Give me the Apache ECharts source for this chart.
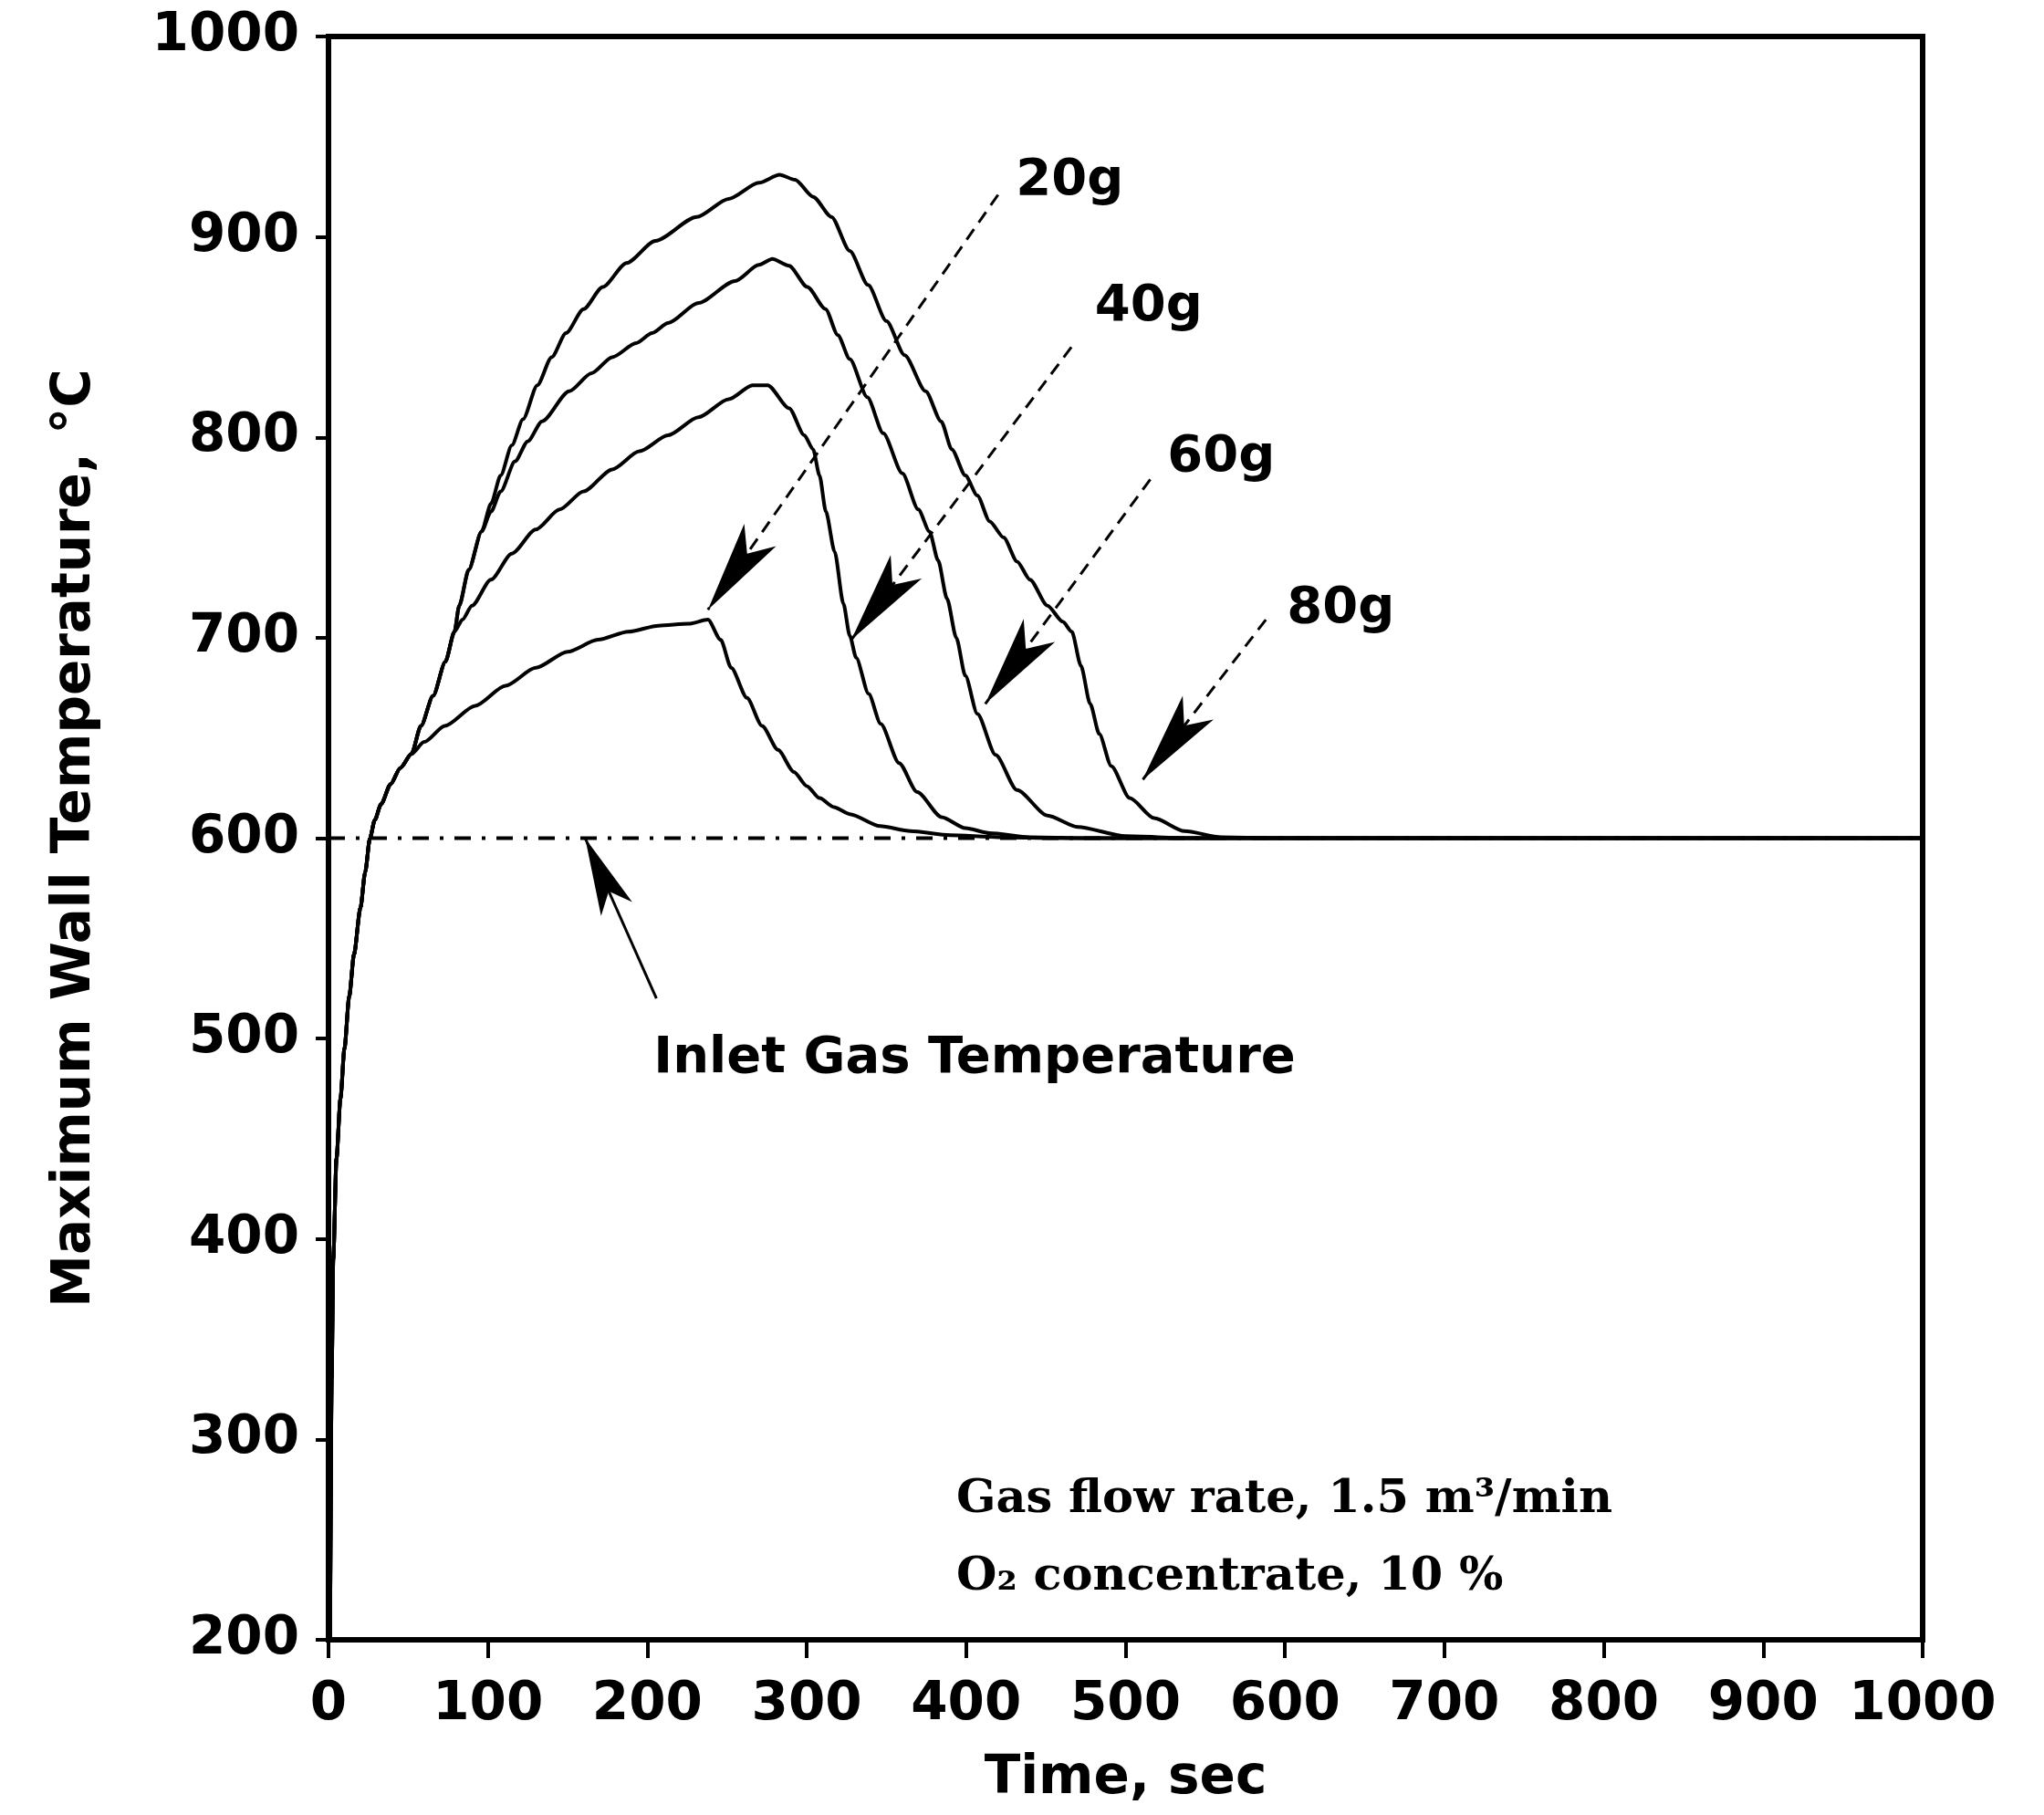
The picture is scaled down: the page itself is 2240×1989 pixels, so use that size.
<!DOCTYPE html>
<html>
<head>
<meta charset="utf-8">
<script src="https://cdn.jsdelivr.net/npm/echarts@6/dist/echarts.min.js"></script>
<style>html,body{margin:0;padding:0;background:#fff}#c{width:2240px;height:1989px}</style>
</head>
<body>
<div id="c"></div>
<script>
// ---- axis ranges / tick labels ----
const xTickValues = [0, 100, 200, 300, 400, 500, 600, 700, 800, 900, 1000];
const yTickValues = [200, 300, 400, 500, 600, 700, 800, 900, 1000];

// ---- shared initial rise (all charges) [time s, temperature C] ----
const rise = [[1,200],[2,330],[3,390],[5,440],[7.5,470],[10,495],[13,521],[16,542],[20,565],[23,583],[26,600],[29,609],[33,617],[39,627],[45,635],[52,642]];

// ---- 20 g ----
const g20 = [[60,648],[73,656],[92,666],[111,676],[130,685],[150,693],[169,699],[188,703],[207,706],[226,707],[238,709],[246,699],[252.6,685],[262.5,670],[272,656],[282,644],[292,633],[300,626],[308,620],[317,615.5],[327,612],[346,606],[365,603.5],[390,601.5],[420,600.5],[460,600],[1000,600]];

// ---- 40 g ----
const g40 = [[58,656],[65.6,671],[73.3,688],[79,703],[84,709],[90,716],[101.9,729],[115,742],[130,754],[145,764],[160,773],[178,784],[195,793],[213,801],[232,810],[251,819],[266,826],[275.5,826],[289,814.5],[298.5,801],[304,794],[308,781],[312,763],[317.5,743],[323,717],[327,701],[331,690],[338.8,672],[346.4,657],[357.9,637.5],[369.3,623],[384.6,610.5],[399.5,605],[414.8,602.5],[440,600.5],[480,600],[1000,600]];

// ---- 60 g ----
const g60 = [[58,656],[65.6,671],[73.3,688],[79,703],[82,716],[88,734],[96,753],[102,763],[108,773],[117,788],[125,798],[134,808],[151,823],[165,832],[178,840],[193,847],[203,852],[213,857],[232,867],[255,878],[270,886],[278.4,889],[288.9,885.6],[300.4,875],[311.8,864],[319.5,851],[327,839],[338,820],[348,802],[360,782],[370,764],[377,753],[382.4,738.6],[388,719.5],[393.8,700],[399.5,681],[407,662],[418.5,641.5],[431.9,624],[451,611.3],[470,605.6],[500,601],[540,600],[1000,600]];

// ---- 80 g ----
const g80 = [[58,656],[65.6,671],[73.3,688],[79,703],[82,716],[88,734],[96,753],[102,767],[108,781],[115,796],[122,809],[131,826],[140,840],[149,852],[160,864],[172,875],[187,887],[205,898],[231,910],[251,919],[270,927],[283,931],[292.7,928.5],[304,920],[315.5,910],[327,893],[338.5,876],[350,858],[361.4,841],[374.6,823],[384.3,808],[391,794],[399.5,781],[407,771],[414.8,758],[423.5,750],[432,738],[440,729],[451,716],[460.6,708],[466.3,703],[472,686],[477.8,667],[483.5,652],[491,636],[502.6,620],[517.9,610],[537,603.5],[560,600.5],[600,600],[1000,600]];

// ---- inlet gas temperature ----
const inlet = [[0,600],[1000,600]];

// ---- annotation texts and anchors (data coords) ----
const labelTexts = ['20g','40g','60g','80g','Inlet Gas Temperature'];
const labelAnchors = [[465,928],[514.5,865],[560,790],[635,714.5],[405.3,490]];
const noteTexts = ['Gas flow rate, 1.5 m³/min','O₂ concentrate, 10 %'];
const noteAnchors = [[393.8,270],[393.8,231]];
// arrows: [tail, tip]
const arrowTails = [[420,921],[466,845],[515.5,779],[588,709],[205.7,520]];
const arrowTips  = [[238,714],[328,699],[412,667],[510.6,629],[161,600]];
const arrowDashed = [true,true,true,true,false];

const FONT = 'DejaVu Sans';
const chart = echarts.init(document.getElementById('c'), null, {renderer:'canvas'});

function curve(name, pts) {
  return {
    name: name, type: 'line', data: rise.concat(pts), showSymbol: false, symbol: 'none',
    smooth: 0.25, smoothMonotone: 'x', clip: true,
    lineStyle: {color: '#000', width: 4}, z: 3, silent: true
  };
}

const option = {
  animation: false,
  backgroundColor: '#fff',
  grid: {left: 360, right: 133, top: 40, bottom: 192, show: true, borderColor: '#000', borderWidth: 6, containLabel: false},
  xAxis: {
    type: 'value', min: xTickValues[0], max: xTickValues[xTickValues.length-1], interval: 100,
    name: 'Time, sec', nameLocation: 'middle', nameGap: 124,
    nameTextStyle: {fontFamily: FONT, fontWeight: 'bold', fontSize: 58, color: '#000'},
    axisLine: {show: true, lineStyle: {color: '#000', width: 6}},
    axisTick: {show: true, inside: false, length: 20, lineStyle: {color: '#000', width: 4}},
    axisLabel: {margin: 43, fontFamily: FONT, fontWeight: 'bold', fontSize: 58, color: '#000', formatter: v => String(v)},
    splitLine: {show: false}
  },
  yAxis: {
    type: 'value', min: yTickValues[0], max: yTickValues[yTickValues.length-1], interval: 100,
    name: 'Maximum Wall Temperature, °C', nameLocation: 'middle', nameGap: 248,
    nameTextStyle: {fontFamily: FONT, fontWeight: 'bold', fontSize: 58, color: '#000'},
    axisLine: {show: true, lineStyle: {color: '#000', width: 6}},
    axisTick: {show: true, inside: false, length: 14, lineStyle: {color: '#000', width: 4}},
    axisLabel: {margin: 32, fontFamily: FONT, fontWeight: 'bold', fontSize: 58, color: '#000', formatter: v => String(v)},
    splitLine: {show: false}
  },
  series: [
    {
      name: 'Inlet Gas Temperature', type: 'line', data: inlet, showSymbol: false, symbol: 'none',
      lineStyle: {color: '#000', width: 4, type: [18, 12, 4, 12]}, z: 2, silent: true
    },
    curve('20g', g20),
    curve('40g', g40),
    curve('60g', g60),
    curve('80g', g80),
    {
      name: 'labels', type: 'scatter', symbolSize: 0, silent: true, z: 5,
      itemStyle: {opacity: 1, color: '#000'},
      data: labelTexts.map((t, i) => ({name: t, value: labelAnchors[i]})),
      label: {show: true, position: 'inside', formatter: '{b}', fontFamily: FONT, fontWeight: 'bold', fontSize: 56, color: '#000', opacity: 1}
    },
    {
      name: 'notes', type: 'scatter', symbolSize: 0, silent: true, z: 5,
      itemStyle: {opacity: 1, color: '#000'},
      data: noteTexts.map((t, i) => ({name: t, value: noteAnchors[i]})),
      label: {show: true, position: 'right', distance: 0, align: 'left', formatter: '{b}', fontFamily: 'DejaVu Serif', fontWeight: 'bold', fontSize: 51, color: '#000', opacity: 1}
    },
    {
      name: 'arrows', type: 'line', data: [], silent: true, z: 6,
      markLine: {
        silent: true, animation: false, symbol: ['none', 'arrow'], precision: 4,
        label: {show: false},
        lineStyle: {color: '#000', width: 3},
        itemStyle: {color: '#000'},
        data: arrowTails.map((t, i) => [
          {coord: t, symbol: 'none', lineStyle: {type: arrowDashed[i] ? [14, 9] : 'solid', width: 3, color: '#000'}},
          {coord: arrowTips[i], symbol: 'arrow', symbolSize: i === 4 ? [28, 85] : [32, 100]}
        ])
      }
    }
  ]
};
chart.setOption(option);
</script>
</body>
</html>
